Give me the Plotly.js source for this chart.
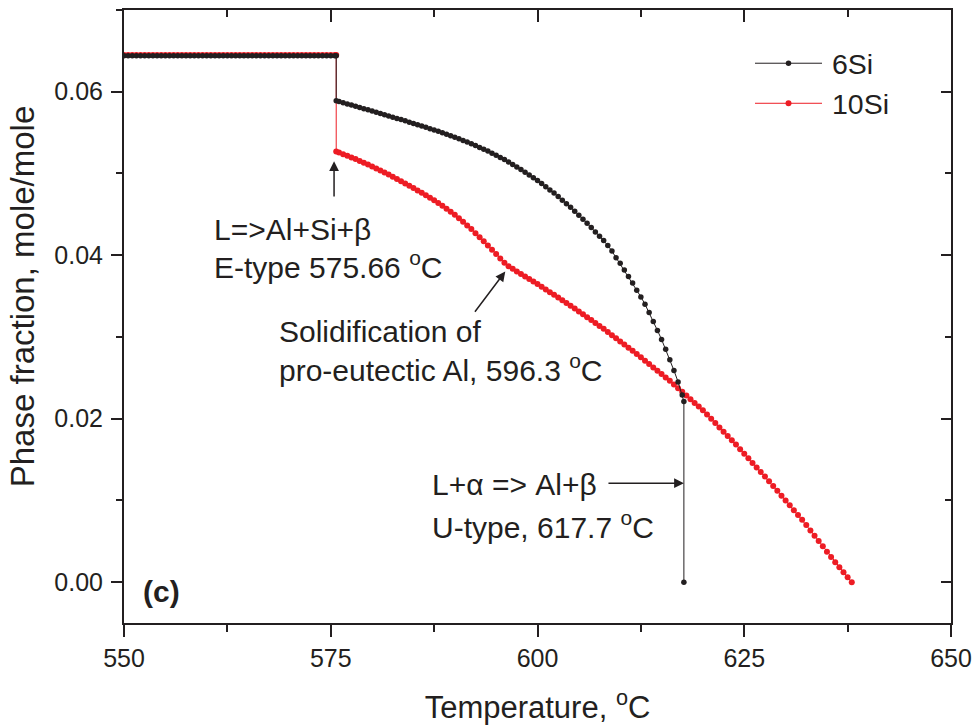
<!DOCTYPE html>
<html>
<head>
<meta charset="utf-8">
<script src="https://cdn.plot.ly/plotly-3.0.1.min.js"></script>
<style>html,body{margin:0;padding:0;background:#fff;}#chart{width:978px;height:727px;}</style>
</head>
<body>
<div id="chart"></div>
<script>
// ---- data ----
const seriesNames = ["6Si", "10Si"];

const temp6 = [550,550.5,551,551.5,552,552.5,553,553.5,554,554.5,555,555.5,556,556.5,557,557.5,558,558.5,559,559.5,560,560.5,561,561.5,562,562.5,563,563.5,564,564.5,565,565.5,566,566.5,567,567.5,568,568.5,569,569.5,570,570.5,571,571.5,572,572.5,573,573.5,574,574.5,575,575.5,575.66,
575.66,576,576.5,577,577.5,578,578.5,579,579.5,580,580.5,581,581.5,582,582.5,583,583.5,584,584.5,585,585.5,586,586.5,587,587.5,588,588.5,589,589.5,590,590.5,591,591.5,592,592.5,593,593.5,594,594.5,595,595.5,596,596.5,597,597.5,598,598.5,599,599.5,600,600.5,601,601.5,602,602.5,603,603.5,604,604.5,605,605.5,606,606.5,607,607.5,608,608.5,609,609.5,610,610.5,611,611.5,612,612.5,613,613.5,614,614.5,615,615.5,616,616.5,617,617.5,617.7,617.7];
const frac6 = [0.0644,0.0644,0.0644,0.0644,0.0644,0.0644,0.0644,0.0644,0.0644,0.0644,0.0644,0.0644,0.0644,0.0644,0.0644,0.0644,0.0644,0.0644,0.0644,0.0644,0.0644,0.0644,0.0644,0.0644,0.0644,0.0644,0.0644,0.0644,0.0644,0.0644,0.0644,0.0644,0.0644,0.0644,0.0644,0.0644,0.0644,0.0644,0.0644,0.0644,0.0644,0.0644,0.0644,0.0644,0.0644,0.0644,0.0644,0.0644,0.0644,0.0644,0.0644,0.0644,0.0644,
0.0589,0.05880,0.05866,0.05851,0.05837,0.05822,0.05808,0.05793,0.05779,0.05764,0.05749,0.05734,0.05719,0.05704,0.05689,0.05674,0.05659,0.05644,0.05628,0.05612,0.05596,0.05580,0.05564,0.05548,0.05532,0.05516,0.05498,0.05480,0.05462,0.05444,0.05424,0.05404,0.05384,0.05364,0.05342,0.05319,0.05297,0.05274,0.05248,0.05222,0.05196,0.05170,0.05140,0.05110,0.05080,0.05050,0.05016,0.04982,0.04948,0.04914,0.04876,0.04837,0.04799,0.04760,0.04717,0.04673,0.04630,0.04586,0.04538,0.04489,0.04441,0.04392,0.04339,0.04285,0.04232,0.0418,0.0412,0.0405,0.0397,0.0390,0.0382,0.0374,0.0366,0.0357,0.0349,0.0340,0.0330,0.0319,0.0308,0.0297,0.0285,0.0272,0.0259,0.0245,0.0229,0.0221,0];

const temp10 = [550,550.5,551,551.5,552,552.5,553,553.5,554,554.5,555,555.5,556,556.5,557,557.5,558,558.5,559,559.5,560,560.5,561,561.5,562,562.5,563,563.5,564,564.5,565,565.5,566,566.5,567,567.5,568,568.5,569,569.5,570,570.5,571,571.5,572,572.5,573,573.5,574,574.5,575,575.5,575.66,
575.66,576,576.5,577,577.5,578,578.5,579,579.5,580,580.5,581,581.5,582,582.5,583,583.5,584,584.5,585,585.5,586,586.5,587,587.5,588,588.5,589,589.5,590,590.5,591,591.5,592,592.5,593,593.5,594,594.5,595,595.5,596,596.5,597,597.5,598,598.5,599,599.5,600,600.5,601,601.5,602,602.5,603,603.5,604,604.5,605,605.5,606,606.5,607,607.5,608,608.5,609,609.5,610,610.5,611,611.5,612,612.5,613,613.5,614,614.5,615,615.5,616,616.5,617,617.5,618,618.5,619,619.5,620,620.5,621,621.5,622,622.5,623,623.5,624,624.5,625,625.5,626,626.5,627,627.5,628,628.5,629,629.5,630,630.5,631,631.5,632,632.5,633,633.5,634,634.5,635,635.5,636,636.5,637,637.5,638];
const frac10 = [0.0645,0.0645,0.0645,0.0645,0.0645,0.0645,0.0645,0.0645,0.0645,0.0645,0.0645,0.0645,0.0645,0.0645,0.0645,0.0645,0.0645,0.0645,0.0645,0.0645,0.0645,0.0645,0.0645,0.0645,0.0645,0.0645,0.0645,0.0645,0.0645,0.0645,0.0645,0.0645,0.0645,0.0645,0.0645,0.0645,0.0645,0.0645,0.0645,0.0645,0.0645,0.0645,0.0645,0.0645,0.0645,0.0645,0.0645,0.0645,0.0645,0.0645,0.0645,0.0645,0.0645,
0.0527,0.05256,0.05236,0.05216,0.05196,0.05176,0.05154,0.05131,0.05109,0.05086,0.05061,0.05036,0.05011,0.04986,0.04959,0.04932,0.04905,0.04878,0.04850,0.04821,0.04793,0.04764,0.04733,0.04702,0.04671,0.04640,0.04604,0.04568,0.04532,0.04496,0.04452,0.04408,0.04364,0.04320,0.04270,0.04220,0.04170,0.04120,0.04067,0.04014,0.03961,0.03908,0.03864,0.03833,0.03802,0.03771,0.03740,0.03709,0.03678,0.03647,0.03614,0.03581,0.03548,0.03515,0.03482,0.03449,0.03416,0.03383,0.03348,0.03312,0.03277,0.03241,0.03206,0.03170,0.03135,0.03099,0.03061,0.03022,0.02984,0.02945,0.02907,0.02868,0.02830,0.02791,0.02750,0.02709,0.02668,0.02627,0.02586,0.02545,0.02504,0.02463,0.02418,0.02373,0.02328,0.02283,0.02238,0.02193,0.02148,0.02103,0.02051,0.01998,0.01946,0.01893,0.01841,0.01788,0.01736,0.01683,0.01627,0.01571,0.01515,0.01459,0.01403,0.01347,0.01291,0.01235,0.01176,0.01117,0.01058,0.00999,0.00940,0.00881,0.00822,0.00763,0.00698,0.00633,0.00568,0.00503,0.00438,0.00373,0.00308,0.00243,0.00182,0.00121,0.00060,0.0000];

const xTickVals = [550, 575, 600, 625, 650];
const xTickText = ["550", "575", "600", "625", "650"];
const yTickVals = [0.00, 0.02, 0.04, 0.06];
const yTickText = ["0.00", "0.02", "0.04", "0.06"];

// ---- styling ----
const INK = '#231f20';
const RED = '#ed1c24';
const FONT = 'Liberation Sans, Arial, Helvetica, sans-serif';

const traces = [
  {x: temp10, y: frac10, name: seriesNames[1], type: 'scatter', mode: 'lines+markers',
   line: {color: RED, width: 1}, marker: {color: RED, size: 6}, legendrank: 2},
  {x: temp6, y: frac6, name: seriesNames[0], type: 'scatter', mode: 'lines+markers',
   line: {color: INK, width: 1}, marker: {color: INK, size: 5.5}, legendrank: 1},
  {x: [], y: [], xaxis: 'x2', yaxis: 'y2', showlegend: false, hoverinfo: 'skip', type: 'scatter', mode: 'markers'}
];

const xr = [550, 650], yr = [-0.005, 0.07];
const ax = {color: INK, linecolor: INK, linewidth: 2, showline: true, showgrid: false, zeroline: false,
            tickcolor: INK, tickwidth: 2, fixedrange: true};

const arrowStyle = {showarrow: true, arrowhead: 2, arrowsize: 1.3, arrowwidth: 1.5, arrowcolor: INK,
                    axref: 'x', ayref: 'y', standoff: 0, startstandoff: 0, text: ''};
const txt = (x, y, text, extra) => Object.assign({x, y, xref: 'x', yref: 'y', text, showarrow: false,
                    xanchor: 'left', yanchor: 'middle', font: {family: FONT, size: 30, color: INK}}, extra || {});

const layout = {
  width: 978, height: 727,
  margin: {l: 124, r: 27, t: 10, b: 104},
  paper_bgcolor: '#fff', plot_bgcolor: '#fff',
  font: {family: FONT, color: INK},
  showlegend: true,
  legend: {x: 0.763, y: 0.954, xanchor: 'left', yanchor: 'top', bgcolor: 'rgba(0,0,0,0)',
           font: {family: FONT, size: 28.5, color: INK}, itemwidth: 67, traceorder: 'normal'},
  xaxis: Object.assign({}, ax, {range: xr, tickmode: 'array', tickvals: xTickVals, ticktext: xTickText,
           ticks: 'outside', ticklen: 12, ticklabelstandoff: 0,
           minor: {dtick: 12.5, tick0: 550, ticks: 'outside', ticklen: 7, tickwidth: 2, tickcolor: INK},
           tickfont: {family: FONT, size: 25, color: INK},
           title: {text: 'Temperature, <sup>o</sup>C', font: {family: FONT, size: 31, color: INK}, standoff: 25}}),
  yaxis: Object.assign({}, ax, {range: yr, tickmode: 'array', tickvals: yTickVals, ticktext: yTickText,
           ticks: 'outside', ticklen: 11, ticklabelstandoff: 3,
           minor: {dtick: 0.01, tick0: 0, ticks: 'outside', ticklen: 6, tickwidth: 2, tickcolor: INK},
           tickfont: {family: FONT, size: 25, color: INK},
           title: {text: 'Phase fraction, mole/mole', font: {family: FONT, size: 33, color: INK}, standoff: 10}}),
  xaxis2: Object.assign({}, ax, {range: xr, overlaying: 'x', side: 'top', anchor: 'y2',
           tickmode: 'array', tickvals: xTickVals, ticks: 'inside', ticklen: 12, showticklabels: false,
           minor: {dtick: 12.5, tick0: 550, ticks: 'inside', ticklen: 7, tickwidth: 2, tickcolor: INK}}),
  yaxis2: Object.assign({}, ax, {range: yr, overlaying: 'y', side: 'right', anchor: 'x2',
           tickmode: 'array', tickvals: yTickVals, ticks: 'inside', ticklen: 10, showticklabels: false,
           minor: {dtick: 0.01, tick0: 0, ticks: 'inside', ticklen: 6, tickwidth: 2, tickcolor: INK}}),
  annotations: [
    Object.assign({}, arrowStyle, {x: 575.4, y: 0.0515, ax: 575.4, ay: 0.0470}),
    Object.assign({}, arrowStyle, {x: 596.1, y: 0.0380, ax: 592.3, ay: 0.0329}),
    Object.assign({}, arrowStyle, {x: 617.7, y: 0.0121, ax: 608.4, ay: 0.0121}),
    txt(560.6, 0.0432, 'L=&gt;Al+Si+β'),
    txt(560.6, 0.0388, 'E-type 575.66 <sup>o</sup>C'),
    txt(568.5, 0.0307, 'Solidification of'),
    txt(568.5, 0.0262, 'pro-eutectic Al, 596.3 <sup>o</sup>C'),
    txt(587.0, 0.0120, 'L+α =&gt; Al+β'),
    txt(587.0, 0.0070, 'U-type, 617.7 <sup>o</sup>C'),
    txt(552.0, -0.0011, '<b>(c)</b>')
  ]
};

Plotly.newPlot('chart', traces, layout, {displayModeBar: false, staticPlot: true}).then(function (gd) {
  // lengthen the legend line samples to match the reference (about 67 px)
  gd.querySelectorAll('.legend .traces').forEach(function (g) {
    g.querySelectorAll('.legendlines path').forEach(function (p) { p.setAttribute('d', 'M0,0h67'); });
    g.querySelectorAll('.legendsymbols path.scatterpts').forEach(function (p) {
      p.setAttribute('transform', 'translate(33.5,0)');
    });
  });
  // the reference's y title sits about 20 px above the plot's vertical centre
  const yt = gd.querySelector('.g-ytitle');
  if (yt) yt.setAttribute('transform', 'translate(0,-20)');
});
</script>
</body>
</html>
